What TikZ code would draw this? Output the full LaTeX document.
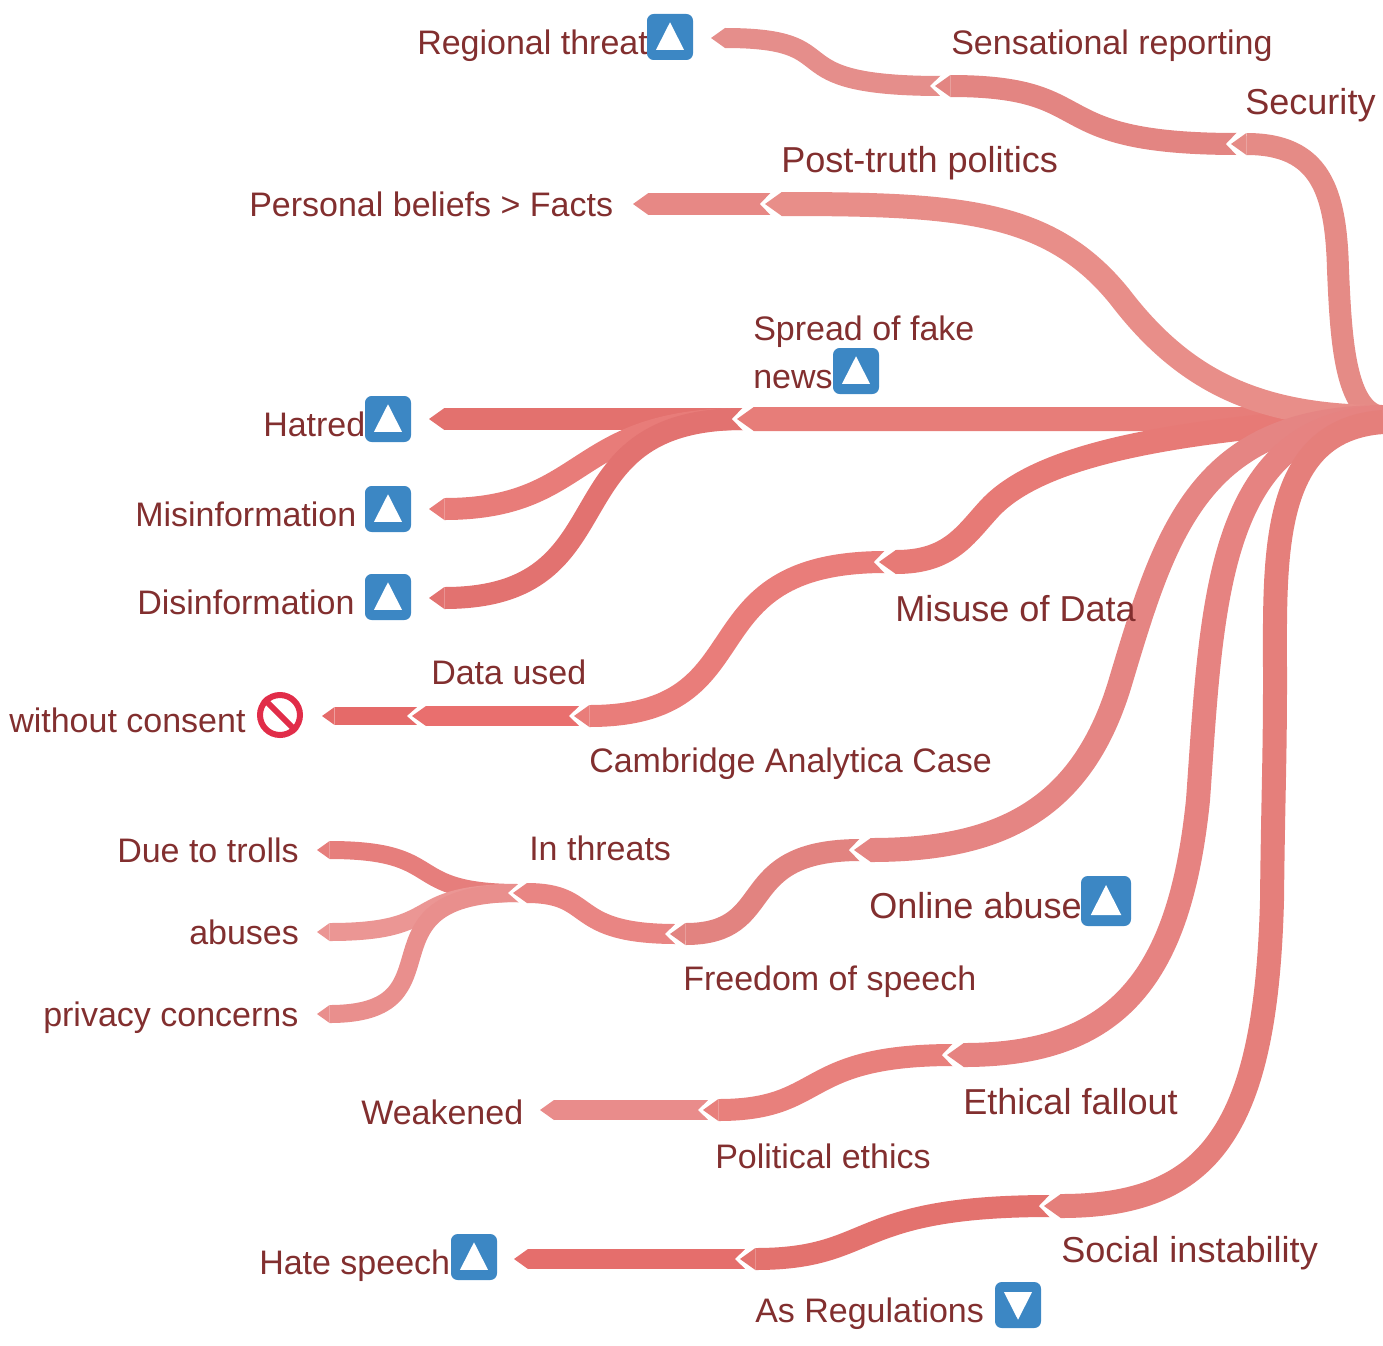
\documentclass[tikz,border=0pt]{standalone}
\usepackage{fontspec}
\setmainfont{Liberation Sans}
\usetikzlibrary{arrows.meta,calc}
\definecolor{txt}{HTML}{822F2F}
\definecolor{iconblue}{HTML}{3C87C4}
\definecolor{noentry}{HTML}{E12D49}
\definecolor{cRegional}{HTML}{E58E8B}
\definecolor{cSens}{HTML}{E38582}
\definecolor{cSecurity}{HTML}{E58B86}
\definecolor{cPost}{HTML}{E88E89}
\definecolor{cPersonal}{HTML}{E78885}
\definecolor{cSpread}{HTML}{E77D79}
\definecolor{cHatred}{HTML}{E3716E}
\definecolor{cMisinfo}{HTML}{E87C79}
\definecolor{cDisinfo}{HTML}{E27270}
\definecolor{cMisuse}{HTML}{E77A76}
\definecolor{cCambridge}{HTML}{E97D7A}
\definecolor{cData}{HTML}{E96F6E}
\definecolor{cConsent}{HTML}{E56A69}
\definecolor{cOnline}{HTML}{E58583}
\definecolor{cFreedom}{HTML}{E28380}
\definecolor{cThreats}{HTML}{E98583}
\definecolor{cTrolls}{HTML}{E67E7C}
\definecolor{cAbuses}{HTML}{EB9694}
\definecolor{cPrivacy}{HTML}{E98F8D}
\definecolor{cEthical}{HTML}{E68381}
\definecolor{cPolitical}{HTML}{E8807C}
\definecolor{cWeakened}{HTML}{E98C8B}
\definecolor{cSocial}{HTML}{E57F7B}
\definecolor{cRegul}{HTML}{E3726E}
\definecolor{cHate}{HTML}{E56E6C}
\tikzset{
  band/.style 2 args={draw=#2,line width=#1*0.75pt,
    {Triangle[length=0pt 0.7,width=0pt 1,line width=0pt,sep=0pt,fill=#2]}-},
  lab/.style={anchor=base west,inner sep=0pt,text=txt,font=\fontsize{25.5}{36}\selectfont},
  labtop/.style={lab,font=\fontsize{27.05}{36}\selectfont},
  iconbox/.style={fill=iconblue,rounded corners=5pt,minimum size=#1*0.75pt,inner sep=0pt},
}
% junction: tip point of a band and the point where its child bands end
\newcommand{\junction}[3]{\coordinate (#1) at (#2,#3); \coordinate (#1-in) at (#2+6.5,#3);}
\newcommand{\notch}[2]{\fill[white] (#1) ++(-5,0) -- ++(11.5,-#2) -- ++(11,0) -- ++(0,2*#2) -- ++(-11,0) -- cycle;}
\newcommand{\upicon}[4]{\node[iconbox=#4] (#1) at (#2,#3) {};
  \fill[white] (#1.center) ++(0,-0.32*#4) -- ++(0.305*#4,0.6*#4) -- ++(-0.61*#4,0) -- cycle;}
\newcommand{\downicon}[4]{\node[iconbox=#4] (#1) at (#2,#3) {};
  \fill[white] (#1.center) ++(0,0.32*#4) -- ++(0.305*#4,-0.6*#4) -- ++(-0.61*#4,0) -- cycle;}
\begin{document}
\begin{tikzpicture}[x=0.75pt,y=-0.75pt]
\useasboundingbox (0,0) rectangle (1383,1345);
\coordinate (root) at (1383,417);
\coordinate (rootlow) at (1383,422);
\coordinate (spreadend) at (1290,419);
\junction{security}{1231}{144}
\junction{sens}{935}{86}
\junction{regional}{711}{38}
\junction{post}{765}{204}
\junction{personal}{633}{204}
\junction{spread}{737}{419}
\junction{hatred}{429}{419}
\junction{misinfo}{429}{509}
\junction{disinfo}{429}{598}
\junction{misuse}{879}{562}
\junction{cambridge}{574}{716}
\junction{dataused}{412}{716}
\junction{consent}{322}{716}
\junction{online}{854}{850}
\junction{freedom}{670}{934}
\junction{threats}{513}{893}
\junction{trolls}{317}{850}
\junction{abuses}{317}{932}
\junction{privacy}{317}{1014}
\junction{ethical}{947}{1055}
\junction{political}{703}{1110}
\junction{weakened}{540}{1110}
\junction{social}{1044}{1206}
\junction{regul}{740}{1259}
\junction{hate}{514}{1259}

% leaves and inner bands, children first
\draw[band={20}{cRegional}] (regional) .. controls +(145,0) and +(-175,0) .. (sens-in);
\notch{sens}{11}
\draw[band={22}{cSens}] (sens) .. controls +(170,0) and +(-202,0) .. (security-in);
\notch{security}{12}
\draw[band={22}{cSecurity}] (security) .. controls (1320,144) and (1336,190) .. (1338,270) .. controls (1341,340) and (1345,413) .. (root);

\draw[band={24}{cSpread}] (spread) -- (spreadend) -- (root);

\draw[band={18}{cConsent}] (consent) -- (dataused-in);
\notch{dataused}{10}
\draw[band={20}{cData}] (dataused) -- (cambridge-in);
\notch{cambridge}{11}
\draw[band={22}{cCambridge}] (cambridge) .. controls +(196,0) and +(-205,0) .. (misuse-in);
\notch{misuse}{12}
\draw[band={24}{cMisuse}] (misuse) .. controls (950,562) and (965,535) .. (990,508) .. controls (1035,460) and (1150,430) .. (root);

\draw[band={22}{cPersonal}] (personal) -- (post-in);
\notch{post}{12}
\draw[band={24}{cPost}] (post) .. controls (960,204) and (1050,210) .. (1120,297) .. controls (1185,382) and (1260,417) .. (root);

\draw[band={18}{cTrolls}] (trolls) .. controls +(133,0) and +(-120,0) .. (threats-in);
\draw[band={18}{cAbuses}] (abuses) .. controls +(133,0) and +(-120,0) .. (threats-in);
\draw[band={18}{cPrivacy}] (privacy) .. controls +(150,0) and +(-170,0) .. (threats-in);
\notch{threats}{10}
\draw[band={20}{cThreats}] (threats) .. controls +(84,0) and +(-110,0) .. (freedom-in);
\notch{freedom}{11}
\draw[band={22}{cFreedom}] (freedom) .. controls +(110,0) and +(-130,0) .. (online-in);
\notch{online}{12}
\draw[band={24}{cOnline}] (online) .. controls (1000,850) and (1083,810) .. (1121,680) .. controls (1166,530) and (1200,418) .. (root);

\draw[band={20}{cWeakened}] (weakened) -- (political-in);
\notch{political}{11}
\draw[band={22}{cPolitical}] (political) .. controls +(124,0) and +(-156,0) .. (ethical-in);
\notch{ethical}{12}
\draw[band={24}{cEthical}] (ethical) .. controls (1120,1055) and (1180,975) .. (1198,800) .. controls (1212,605) and (1215,425) .. (root);

\draw[band={20}{cHate}] (hate) -- (regul-in);
\notch{regul}{11}
\draw[band={22}{cRegul}] (regul) .. controls +(137,0) and +(-203,0) .. (social-in);
\notch{social}{12}
\draw[band={24}{cSocial}] (social) .. controls (1210,1206) and (1266,1130) .. (1272,900) .. controls (1273,800) and (1275,760) .. (1275,680) .. controls (1275,560) and (1268,430) .. (rootlow);

\draw[band={22}{cHatred}] (hatred) -- (spread-in);
\draw[band={22}{cMisinfo}] (misinfo) .. controls +(161,0) and +(-173,0) .. (spread-in);
\draw[band={22}{cDisinfo}] (disinfo) .. controls +(205,0) and +(-200,0) .. (spread-in);
\notch{spread}{12}
\draw[band={24}{cSpread}] (spread) -- ++(100,0);

% labels
\node[lab] (l-regional) at (417,55) {Regional threat};
\node[lab] (l-sens) at (951,55) {Sensational reporting};
\node[labtop] (l-security) at (1245,114) {Security};
\node[labtop] (l-post) at (781,172) {Post-truth politics};
\node[lab] (l-personal) at (249,216) {Personal beliefs > Facts};
\node[lab,anchor=west,align=left] (l-spread) at (753,352) {Spread of fake\\news};
\node[lab] (l-hatred) at (263,436) {Hatred};
\node[lab] (l-misinfo) at (135,526) {Misinformation};
\node[lab] (l-disinfo) at (137,614) {Disinformation};
\node[lab] (l-data) at (431,684) {Data used};
\node[lab] (l-consent) at (9,732) {without consent};
\node[labtop] (l-misuse) at (895,621) {Misuse of Data};
\node[lab] (l-cambridge) at (589,772) {Cambridge Analytica Case};
\node[labtop] (l-online) at (869,918.5) {Online abuse};
\node[lab] (l-trolls) at (117,862) {Due to trolls};
\node[lab] (l-threats) at (529,860) {In threats};
\node[lab] (l-abuses) at (189,944) {abuses};
\node[lab] (l-privacy) at (43,1026) {privacy concerns};
\node[lab] (l-freedom) at (683,990) {Freedom of speech};
\node[labtop] (l-ethical) at (963,1114) {Ethical fallout};
\node[lab] (l-weakened) at (361,1124) {Weakened};
\node[lab] (l-political) at (715,1168) {Political ethics};
\node[labtop] (l-social) at (1061,1262) {Social instability};
\node[lab] (l-hate) at (259,1274) {Hate speech};
\node[lab] (l-regul) at (755,1322) {As Regulations};

% icons
\upicon{i-regional}{670}{37}{46}
\upicon{i-hatred}{388}{419}{46}
\upicon{i-misinfo}{388}{509}{46}
\upicon{i-disinfo}{388}{597}{46}
\upicon{i-spread}{856}{371}{46}
\upicon{i-online}{1106}{901}{50}
\upicon{i-hate}{474}{1257}{46}
\downicon{i-regul}{1018}{1305}{46}
\node[circle,draw=noentry,line width=4.5pt,minimum size=30pt,inner sep=0pt] (i-consent) at (280,715) {};
\draw[noentry,line width=4.5pt] (i-consent.135) -- (i-consent.-45);
\end{tikzpicture}
\end{document}
